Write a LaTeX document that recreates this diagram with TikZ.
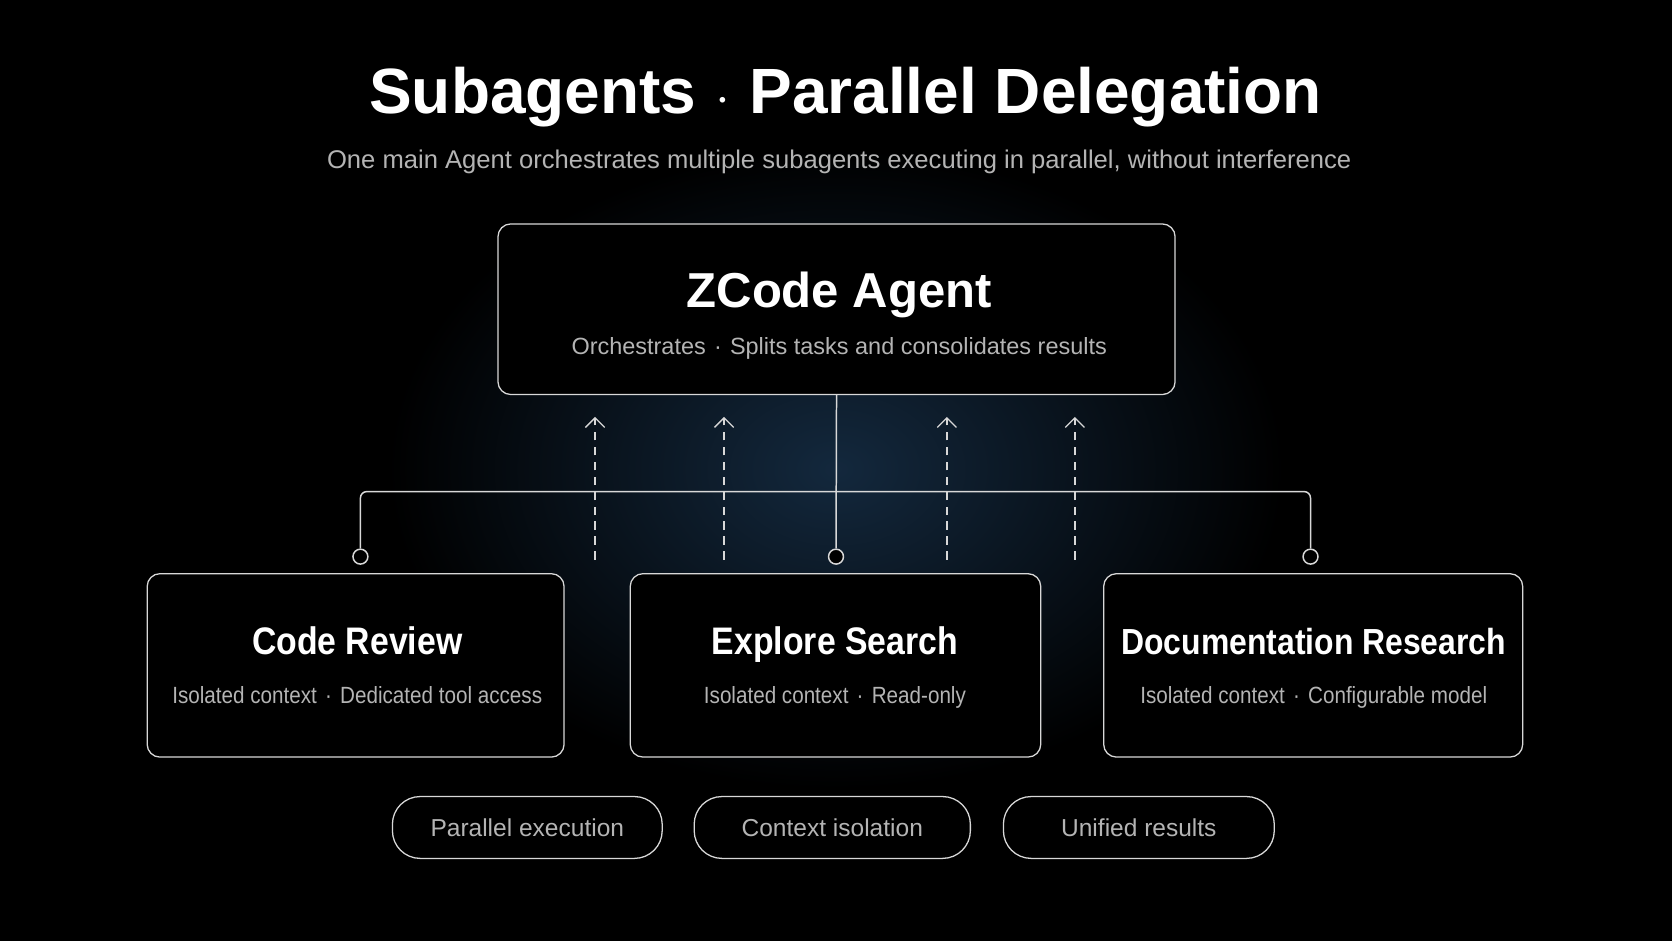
\documentclass[tikz,border=0pt]{standalone}
\usepackage{fontspec}
\setmainfont{Liberation Sans}
\newfontfamily\narrowfont{Liberation Sans}[FakeStretch=0.88]
\usetikzlibrary{arrows.meta,positioning,calc}
\definecolor{bg}{HTML}{000000}
\definecolor{glow}{HTML}{13283D}
\definecolor{subgrey}{HTML}{B4B4B4}
\definecolor{edge}{HTML}{D8D8D8}
\tikzset{
  agent/.style={draw=edge, fill=bg, line width=0.6pt, rounded corners=6pt, minimum width=317.5pt, minimum height=80pt},
  sub/.style={draw=edge, fill=bg, line width=0.6pt, rounded corners=6pt, minimum height=86pt},
  pill/.style={draw=edge, line width=0.6pt, rounded corners=13pt, minimum height=29pt, text=subgrey, font=\fontsize{11.5}{13}\selectfont},
  bus/.style={draw=edge, line width=0.7pt, rounded corners=3pt},
  ret/.style={draw=edge, line width=0.6pt, dash pattern=on 4pt off 3pt, -{Straight Barb[length=4.5pt,width=9pt]}},
  port/.style={draw=edge, line width=0.7pt, fill=bg, circle, inner sep=0pt, minimum size=7pt},
  ttl/.style={text=white, anchor=base, font=\bfseries\narrowfont\fontsize{18}{20}\selectfont},
  txt/.style={text=subgrey, anchor=base, font=\narrowfont\fontsize{11}{12}\selectfont},
}
\newcommand{\sep}{\hspace{0.35em}\textperiodcentered\hspace{0.35em}}
\begin{document}
\begin{tikzpicture}[x=0.5pt, y=-0.5pt]
% background with soft glow
\fill[bg] (0,0) rectangle (1568,882);
\shade[inner color=glow, outer color=bg] (784,440) ellipse (420 and 300);
\useasboundingbox (0,0) rectangle (1568,882);
% header
\node[text=white, anchor=base, font=\bfseries\fontsize{30}{36}\selectfont] (title) at (793,106) {Subagents\hspace{0.3em}$\cdot$\hspace{0.3em}Parallel Delegation};
\node[txt, font=\fontsize{12}{14}\selectfont] (subtitle) at (787,158) {One main Agent orchestrates multiple subagents executing in parallel, without interference};
% main agent
\node[agent] (main) at (784.5,290) {};
\node[ttl, font=\bfseries\fontsize{23}{26}\selectfont] (mainT) at (787,288) {ZCode Agent};
\node[txt, font=\fontsize{11}{13}\selectfont] (mainS) at (787,332) {Orchestrates\sep Splits tasks and consolidates results};
% subagents
\node[sub, minimum width=195.5pt] (review) at (333.5,624) {};
\node[sub, minimum width=192.5pt] (explore) at (783.5,624) {};
\node[sub, minimum width=196.5pt] (docs) at (1231.5,624) {};
\node[ttl] (reviewT) at (335,614) {Code Review};
\node[ttl] (exploreT) at (783,614) {Explore Search};
\node[ttl, font=\bfseries\narrowfont\fontsize{17}{19}\selectfont] (docsT) at (1232,614) {Documentation Research};
\node[txt] (reviewS) at (335,660) {Isolated context\sep Dedicated tool access};
\node[txt] (exploreS) at (783,660) {Isolated context\sep Read-only};
\node[txt] (docsS) at (1232,660) {Isolated context\sep Configurable model};
% ports
\node[port] (p1) at (338,522) {};
\node[port] (p2) at (784,522) {};
\node[port] (p3) at (1229,522) {};
% dispatch bus
\draw[bus] (main.south) -- (p2);
\draw[bus] (p1) -- (338,461) -- (1229,461) -- (p3);
% results flowing back
\foreach \x/\n in {558/a,679/b,888/c,1008/d}{
  \coordinate (r\n) at (\x,525);
  \coordinate (t\n) at (\x,391);
  \draw[ret] (r\n) -- (t\n);
}
% feature pills
\node[pill, minimum width=126.5pt] (par) at (494.5,776) {Parallel execution};
\node[pill, minimum width=129.5pt] (iso) at (780.5,776) {Context isolation};
\node[pill, minimum width=127pt] (uni) at (1068,776) {Unified results};
\end{tikzpicture}
\end{document}
